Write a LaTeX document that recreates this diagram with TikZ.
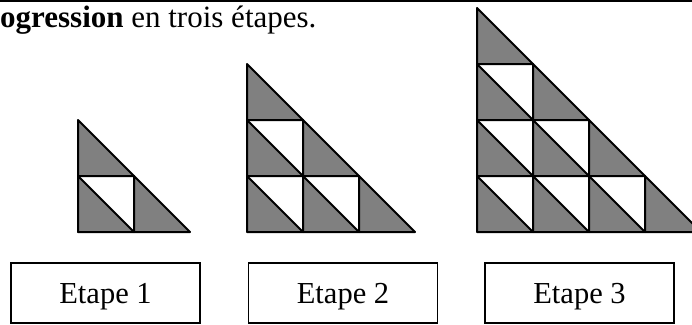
\documentclass[tikz,border=0pt]{standalone}
\usepackage{fontspec}
\setmainfont{Liberation Serif}
\tikzset{
  cellfill/.style={fill=graytri, draw=black, line width=2pt, line join=round},
  cellline/.style={draw=black, line width=2pt, line join=round},
  labelbox/.style={draw=black, line width=1.5pt, minimum width=189pt, minimum height=60pt,
    inner sep=0pt, text depth=0pt, font=\fontsize{30.5}{36}\selectfont},
}
\definecolor{graytri}{HTML}{808080}
\newcommand\stairtri[3]{% #1 = n, #2 = left x, #3 = bottom y
  \foreach \r in {1,...,#1}{%
    \pgfmathtruncatemacro\cmax{#1-\r}%
    \foreach \c in {0,...,\cmax}{%
      \pgfmathsetmacro\xa{#2+56*\c}%
      \pgfmathsetmacro\ya{#3-56*(\r-1)}%
      \ifnum\c<\cmax
        \draw[cellline] (\xa,\ya) rectangle ++(56,-56);
      \fi
      \draw[cellfill] (\xa,\ya) -- ++(56,0) -- ++(-56,-56) -- cycle;
    }%
  }%
}
\begin{document}
\begin{tikzpicture}[x=1pt, y=-1pt]
\useasboundingbox (0,0) rectangle (692,324);
% top rule
\coordinate (tl) at (0,1);
\coordinate (tr) at (692,1);
\draw[line width=2.2pt] (tl) -- (tr);
% heading
\node[anchor=base west, inner sep=0pt, font=\fontsize{31}{36}\selectfont] (title) at (0,27)
  {\textbf{ogression} en trois étapes.};
% triangles
\stairtri{2}{78}{232}
\stairtri{3}{247}{232}
\stairtri{4}{477}{232}
% labels
\node[labelbox] (e1) at (105.5,293) {Etape 1};
\node[labelbox] (e2) at (343,293) {Etape 2};
\node[labelbox] (e3) at (579.5,293) {Etape 3};
\end{tikzpicture}
\end{document}
